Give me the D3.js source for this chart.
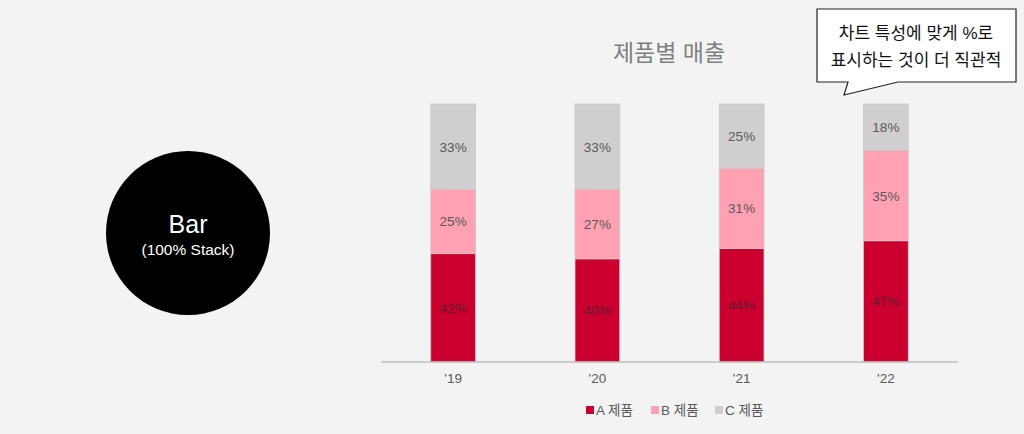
<!DOCTYPE html>
<html><head><meta charset="utf-8">
<script src="https://cdn.jsdelivr.net/npm/d3@7"></script>
<style>
html,body{margin:0;padding:0;background:#f3f3f3;}
svg{display:block;}
text{font-family:"Liberation Sans","Noto Sans CJK KR",Arial,sans-serif;}
</style></head><body>
<svg id="c" width="1024" height="434"></svg>
<script>
const categories = ["'19", "'20", "'21", "'22"];
const seriesNames = ["A 제품", "B 제품", "C 제품"];
const valuesA = [42, 40, 44, 47];
const valuesB = [25, 27, 31, 35];
const valuesC = [33, 33, 25, 18];
const colors = ["#cc002e", "#ffa1b2", "#d0cece"];
const title = "제품별 매출";
const calloutLines = ["차트 특성에 맞게 %로", "표시하는 것이 더 직관적"];

const svg = d3.select("#c");
svg.append("rect").attr("width",1024).attr("height",434).attr("fill","#f3f3f3");

// circle badge
const badge = svg.append("g");
badge.append("circle").attr("cx",188).attr("cy",233).attr("r",82).attr("fill","#000");
badge.append("text").attr("x",188).attr("y",233).attr("text-anchor","middle")
  .attr("fill","#fff").attr("font-size",25).text("Bar");
badge.append("text").attr("x",188).attr("y",255).attr("text-anchor","middle")
  .attr("fill","#fff").attr("font-size",15.5).text("(100% Stack)");

// title
svg.append("text").attr("x",669).attr("y",61).attr("text-anchor","middle")
  .attr("fill","#7f7f7f").attr("font-size",23).text(title);

// data
const data = categories.map((c,i)=>({cat:c, A:valuesA[i], B:valuesB[i], C:valuesC[i]}));
const keys = ["A","B","C"];
const stack = d3.stack().keys(keys)(data);

const x = d3.scaleBand().domain(categories).range([381,958]).paddingInner(0.69).paddingOuter(0.345);
const y = d3.scaleLinear().domain([0,100]).range([362,104]);

const g = svg.append("g");
stack.forEach((layer,li)=>{
  g.selectAll(null).data(layer).enter().append("rect")
    .attr("x",d=>x(d.data.cat)).attr("width",x.bandwidth())
    .attr("y",d=>y(d[1])).attr("height",d=>y(d[0])-y(d[1]))
    .attr("fill",colors[li]).attr("stroke","#c8c8c8").attr("stroke-width",0.8);
  g.selectAll(null).data(layer).enter().append("text")
    .attr("x",d=>x(d.data.cat)+x.bandwidth()/2)
    .attr("y",d=>(y(d[0])+y(d[1]))/2+5)
    .attr("text-anchor","middle").attr("font-size",13.5)
    .attr("fill", li===0 ? "#5e1f2b" : "#595959")
    .text(d=>(d[1]-d[0])+"%");
});

// axis
const xa = svg.append("g").attr("transform","translate(0,362)")
  .call(d3.axisBottom(x).tickSize(0).tickPadding(11));
xa.select(".domain").attr("stroke","#bfbfbf").attr("stroke-width",1.5)
  .attr("d","M381,0H958");
xa.selectAll("text").attr("font-size",13.5).attr("fill","#595959")
  .attr("font-family","Liberation Sans, Arial, sans-serif");

// legend
const legX = [586, 651, 715];
const leg = svg.append("g");
seriesNames.forEach((n,i)=>{
  leg.append("rect").attr("x",legX[i]).attr("y",406).attr("width",8).attr("height",8).attr("fill",colors[i]);
  leg.append("text").attr("x",legX[i]+10).attr("y",415).attr("font-size",13.5)
    .attr("fill","#595959").text(n);
});

// callout
const co = svg.append("g");
co.append("path")
  .attr("d","M817,9H1016V82H898L844,95L848,82H817Z")
  .attr("fill","#fff").attr("stroke","#222").attr("stroke-width",1.2);
calloutLines.forEach((t,i)=>{
  co.append("text").attr("x",916).attr("y",39+i*27).attr("text-anchor","middle")
    .attr("font-size",17).attr("fill","#111")
    .attr("font-family","Noto Sans CJK KR, sans-serif").text(t);
});
</script>
</body></html>
